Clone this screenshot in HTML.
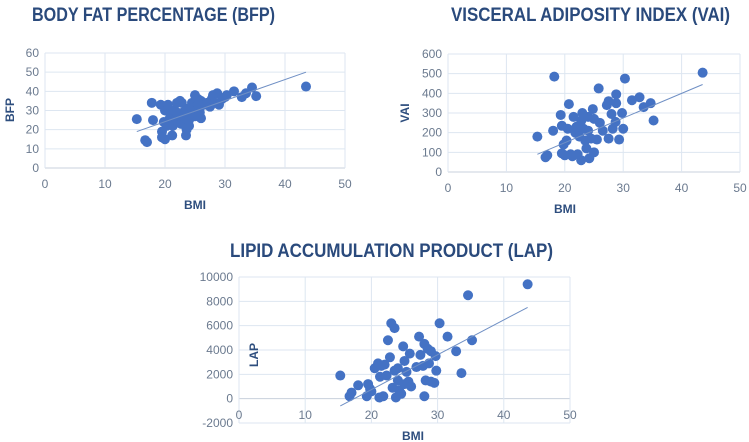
<!DOCTYPE html>
<html><head><meta charset="utf-8"><style>
body{margin:0;background:#fff;width:749px;height:442px;overflow:hidden}
svg{display:block}
text{font-family:"Liberation Sans",sans-serif}
</style></head><body>
<svg id="c" width="749" height="442"></svg>
<script>
const bfpBmi=[15.3,16.7,17,17.8,18,19.3,19.5,19.5,19.8,20,20,20.3,20.5,20.8,21,21.2,21.3,21.5,21.8,22,22.3,22.5,22.7,22.8,23,23.3,23.5,23.6,23.8,24,24.2,24.5,24.7,25,25,25.3,25.5,25.8,26,26,26.5,27,27.5,27.8,28,28.3,28.7,29,29.5,30,30.3,31.5,32.8,33.5,34.5,35.2,43.5,20.5,21,22,23,24,24.5,25.5];
const bfpVals=[25.5,14.5,13.5,34,25,33,19,16,24,30,15,22,33,26,28,17,22,30,25,34,27,35,23,34,29,26,17,20,31,22,28,34,30,38,27,32,36,29,26,35,33,34,32,36,38,34,39,33,36,37,38,40,37,39,42,37.5,42.5,24,25,29,27,25,31,33];
const vaiBmi=[15.3,16.7,17,18,18.2,19.3,19.5,19.5,19.8,20,20.3,20.5,20.7,21,21.3,21.5,21.8,22,22.2,22.5,22.8,22.8,23,23.2,23.5,23.7,24,24,24.2,24.5,24.8,25,25,25.5,25.8,26,26.5,27.2,27.5,27.5,28,28.2,28.7,28.8,28.8,29.3,29.8,30,30.3,31.5,32.8,33.5,34.7,35.2,43.6];
const vaiVals=[180,75,85,210,485,290,95,235,140,85,160,220,345,90,80,280,200,230,90,180,260,60,300,220,160,120,280,210,70,170,320,100,270,165,425,250,210,340,360,170,295,220,255,350,395,165,300,220,475,365,380,330,350,262,505];
const lapBmi=[15.3,16.7,17,18,19.3,19.5,19.8,20,20.5,21,21.2,21.3,21.5,21.8,22,22.3,22.5,22.8,23,23.2,23.5,23.5,23.7,24,24,24.2,24.5,24.8,25,25,25.3,25.6,25.8,26,26.8,27.2,27.4,27.8,28,28,28.2,28.5,28.7,29,29,29.5,29.7,29.8,30.3,31.5,32.8,33.6,34.6,35.2,43.6];
const lapVals=[1900,200,500,1100,200,1200,800,600,2500,2900,100,1800,2700,200,2800,1900,4800,3400,6200,900,5800,2300,100,1500,2500,700,400,4300,3100,1200,2200,1400,3700,1000,2600,5100,3600,2700,4500,200,1500,4100,2900,3900,1400,1300,3500,2300,6200,5100,3900,2100,8500,4800,9400];
const xTicks=[0,10,20,30,40,50];
const bfpTicks=[0,10,20,30,40,50,60];
const vaiTicks=[0,100,200,300,400,500,600];
const lapTicks=[-2000,0,2000,4000,6000,8000,10000];
const trends={bfp:[15.3,19,43.5,50],vai:[15.3,90,43.6,445],lap:[15.3,-600,43.6,7500]};

const svg=document.getElementById('c');
const NS='http://www.w3.org/2000/svg';
function el(t,a,txt){const e=document.createElementNS(NS,t);for(const k in a)e.setAttribute(k,a[k]);if(txt!==undefined)e.textContent=txt;svg.appendChild(e);return e;}

function chart(key,cfg){
  const xs=v=>cfg.x0+(v-0)/50*(cfg.x1-cfg.x0);
  const ymin=cfg.yt[0],ymax=cfg.yt[cfg.yt.length-1];
  const ys=v=>cfg.y0-(v-ymin)/(ymax-ymin)*(cfg.y0-cfg.y1);
  cfg.yt.forEach(t=>{
    const g=el('line',{x1:cfg.x0,x2:cfg.x1,y1:ys(t),y2:ys(t),stroke:t===0?'#c8d0dc':'#dde6f1','stroke-width':1});
    
    
    const l=el('text',{x:cfg.x0-6,y:ys(t)+4,'text-anchor':'end','font-size':12,fill:'#6b7a8f'},String(t));
    
    
  });
  xTicks.forEach(t=>{
    const g=el('line',{x1:xs(t),x2:xs(t),y1:cfg.y1,y2:cfg.y0,stroke:'#dde6f1','stroke-width':1});
    
    
    const l=el('text',{x:xs(t),y:cfg.xl,'text-anchor':'middle','font-size':12,fill:'#6b7a8f'},String(t));
    
    
  });
  cfg.bx.forEach((b,i)=>{
    const c=el('circle',{cx:xs(b),cy:ys(cfg.vals[i]),r:5,fill:'#4472c4'});
    
    
  });
  const t=trends[key];
  const tl=el('line',{x1:xs(t[0]),y1:ys(t[1]),x2:xs(t[2]),y2:ys(t[3]),stroke:'#6f8fc4','stroke-width':1});
  
  
  const ti=el('text',{x:cfg.tx,y:cfg.ty,'font-size':19,'font-weight':'bold',fill:'#2a4a7c',textLength:cfg.tw,lengthAdjust:'spacingAndGlyphs'},cfg.title);
  
  
  const xa=el('text',{x:cfg.bxX,y:cfg.bxY,'text-anchor':'middle','font-size':12,'font-weight':'bold',fill:'#2e4e7e'},'BMI');
  
  
  const ya=el('text',{x:cfg.yaX,y:cfg.yaY,'text-anchor':'middle','font-size':12,'font-weight':'bold',fill:'#2e4e7e',transform:`rotate(-90 ${cfg.yaX} ${cfg.yaY})`},cfg.yname);
  
  
}
chart('bfp',{x0:45,x1:345,y1:53,y0:168,yt:bfpTicks,xl:188,bx:bfpBmi,vals:bfpVals,title:'BODY FAT PERCENTAGE (BFP)',tx:32,ty:21,tw:243,bxX:195,bxY:209,yaX:14,yaY:110,yname:'BFP'});
chart('vai',{x0:448,x1:740,y1:54,y0:172,yt:vaiTicks,xl:192,bx:vaiBmi,vals:vaiVals,title:'VISCERAL ADIPOSITY INDEX (VAI)',tx:451,ty:21,tw:279,bxX:565,bxY:213,yaX:409,yaY:113,yname:'VAI'});
chart('lap',{x0:239,x1:570,y1:277,y0:423,yt:lapTicks,xl:419,bx:lapBmi,vals:lapVals,title:'LIPID ACCUMULATION PRODUCT (LAP)',tx:230,ty:257,tw:323,bxX:413,bxY:440,yaX:258,yaY:355,yname:'LAP'});
</script>
</body></html>
